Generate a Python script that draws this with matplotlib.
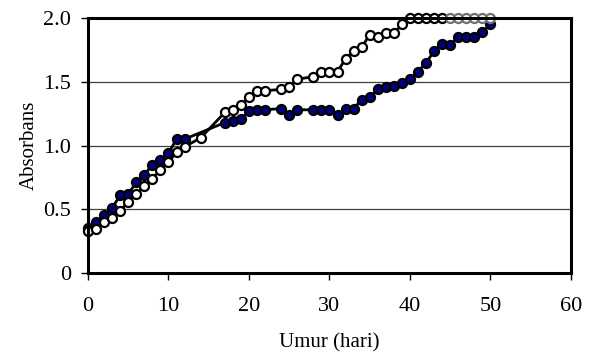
import matplotlib
matplotlib.use("Agg")
import matplotlib.pyplot as plt

plt.rcParams['font.family'] = ['Liberation Serif', 'DejaVu Serif']

# filled (navy) series
days_fill = [0, 1, 2, 3, 4, 5, 6, 7, 8, 9, 10, 11, 12, 17, 18, 19, 20, 21, 22,
             24, 25, 26, 28, 29, 30, 31, 32, 33, 34, 35, 36, 37, 38, 39, 40,
             41, 42, 43, 44, 45, 46, 47, 48, 49, 50]
abs_fill = [0.35, 0.40, 0.455, 0.51, 0.61, 0.62, 0.71, 0.77, 0.85, 0.89, 0.94,
            1.05, 1.05, 1.18, 1.19, 1.21, 1.27, 1.28, 1.28,
            1.29, 1.24, 1.28, 1.28, 1.28, 1.28, 1.24, 1.29, 1.29, 1.36, 1.38,
            1.44, 1.46, 1.47, 1.49, 1.52, 1.58, 1.65, 1.74, 1.80, 1.79, 1.85,
            1.85, 1.85, 1.89, 1.95]

# open (white) series
days_open = [0, 1, 2, 3, 4, 5, 6, 7, 8, 9, 10, 11, 12, 14, 17, 18, 19, 20, 21,
             22, 24, 25, 26, 28, 29, 30, 31, 32, 33, 34, 35, 36, 37, 38, 39,
             40, 41, 42, 43, 44, 45, 46, 47, 48, 49, 50]
abs_open = [0.33, 0.345, 0.40, 0.43, 0.49, 0.555, 0.62, 0.685, 0.74, 0.81,
            0.87, 0.95, 0.99, 1.06, 1.26, 1.28, 1.32, 1.38, 1.43, 1.43,
            1.44, 1.46, 1.52, 1.54, 1.58, 1.58, 1.58, 1.68, 1.74, 1.77, 1.87,
            1.85, 1.88, 1.88, 1.95, 2.0, 2.0, 2.0, 2.0, 2.0, 2.0, 2.0, 2.0,
            2.0, 2.0, 2.0]
last_black = 44  # open markers after this day are drawn grey at the top edge

x_ticks = [0, 10, 20, 30, 40, 50, 60]
y_ticks = [0, 0.5, 1.0, 1.5, 2.0]
y_labels = ["0", "0.5", "1.0", "1.5", "2.0"]

fig = plt.figure(figsize=(5.97, 3.56), dpi=100)
ax = fig.add_axes([0.1474, 0.2331, 0.8090, 0.7163])

for y in y_ticks[1:-1]:
    ax.axhline(y, color='#404040', lw=0.9, zorder=1)

ax.plot(days_fill, abs_fill, color='black', lw=2, marker='o', ms=6.5,
        mfc='#000080', mec='black', mew=1.6, zorder=3, clip_on=False)

ax.plot(days_open, abs_open, color='black', lw=2, zorder=3, clip_on=False)
dk = [d for d in days_open if d <= last_black]
ax.plot(dk, abs_open[:len(dk)], ls='none', marker='o', ms=6.5,
        mfc='white', mec='black', mew=1.6, zorder=4, clip_on=False)
ax.plot(days_open[len(dk):], abs_open[len(dk):], ls='none', marker='o', ms=6.5,
        mfc='white', mec='#707070', mew=1.6, zorder=4, clip_on=False)

ax.set_xlim(0, 60)
ax.set_ylim(0, 2.0)
ax.set_xticks(x_ticks)
ax.set_yticks(y_ticks)
ax.set_yticklabels(y_labels)
for s in ax.spines.values():
    s.set_linewidth(2.2)
    s.set_zorder(5)
ax.tick_params(direction='out', length=5, width=1, labelsize=16, pad=7)
ax.tick_params(axis='x', pad=12)

ax.set_xlabel("Umur (hari)", fontsize=15, labelpad=13)
ax.set_ylabel("Absorbans", fontsize=15, labelpad=3)

fig.savefig("out.png", dpi=100)
